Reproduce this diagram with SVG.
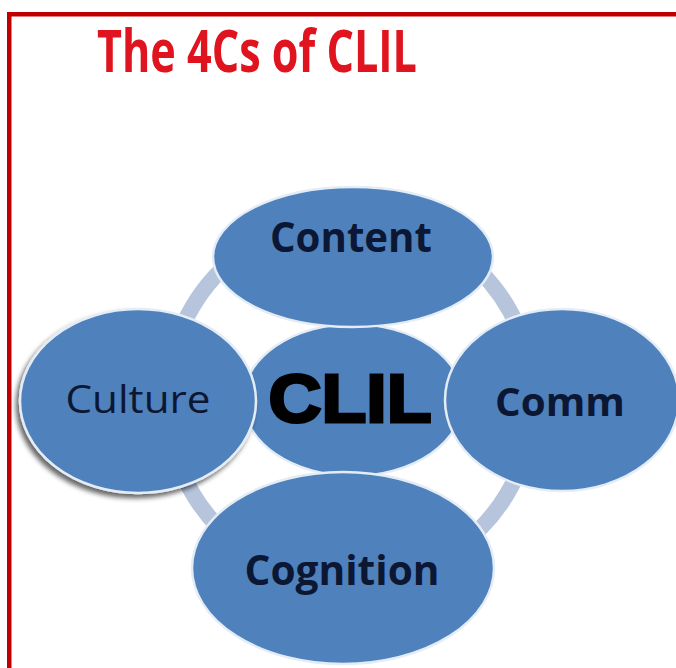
<svg xmlns="http://www.w3.org/2000/svg" width="676" height="668" viewBox="0 0 676 668">
<defs>
<style>
.node{fill:#4f81bd;stroke:#e4ecf6;stroke-width:2.5}
.lbl{font-family:"Open Sans","Liberation Sans",sans-serif;fill:#0c1733;text-anchor:middle}
.b{font-weight:bold}
</style>
<filter id="sh" x="-20%" y="-20%" width="140%" height="140%">
<feGaussianBlur in="SourceAlpha" stdDeviation="2.5"/>
<feOffset dx="-3" dy="4" result="o"/>
<feComponentTransfer><feFuncA type="linear" slope="0.6"/></feComponentTransfer>
<feMerge><feMergeNode/><feMergeNode in="SourceGraphic"/></feMerge>
</filter>
</defs>
<rect width="676" height="668" fill="#ffffff"/>
<g id="frame" fill="#c00000">
<rect x="7" y="12" width="669" height="4.5"/>
<rect x="7" y="12" width="4.5" height="656"/>
</g>
<text x="97" y="72" font-family="'Open Sans','Liberation Sans',sans-serif" font-weight="bold" font-size="59" fill="#e0141e" textLength="320" lengthAdjust="spacingAndGlyphs">The 4Cs of CLIL</text>
<g id="connectors">
<circle cx="350" cy="400" r="183" fill="none" stroke="#b6c4dc" stroke-width="16"/>
</g>
<g id="clil">
<ellipse class="node" cx="353" cy="400" rx="110" ry="76"/>
<text x="350" y="422" font-family="'Liberation Sans',sans-serif" font-weight="bold" font-size="68" fill="#000" stroke="#000" stroke-width="3" text-anchor="middle" textLength="163" lengthAdjust="spacingAndGlyphs">CLIL</text>
</g>
<g id="content">
<ellipse class="node" cx="353" cy="257" rx="140" ry="70"/>
<text class="lbl b" x="351" y="252" font-size="42" textLength="162" lengthAdjust="spacingAndGlyphs">Content</text>
</g>
<g id="culture">
<ellipse class="node" cx="138" cy="401" rx="118" ry="92" filter="url(#sh)"/>
<text class="lbl" x="138" y="413" font-size="38" textLength="145" lengthAdjust="spacingAndGlyphs">Culture</text>
</g>
<g id="comm">
<ellipse class="node" cx="562" cy="400" rx="117" ry="91"/>
<text class="lbl b" x="560" y="416" font-size="40" textLength="130" lengthAdjust="spacingAndGlyphs">Comm</text>
</g>
<g id="cognition">
<ellipse class="node" cx="343" cy="568" rx="151" ry="96"/>
<text class="lbl b" x="342" y="585" font-size="42" textLength="195" lengthAdjust="spacingAndGlyphs">Cognition</text>
</g>
</svg>
